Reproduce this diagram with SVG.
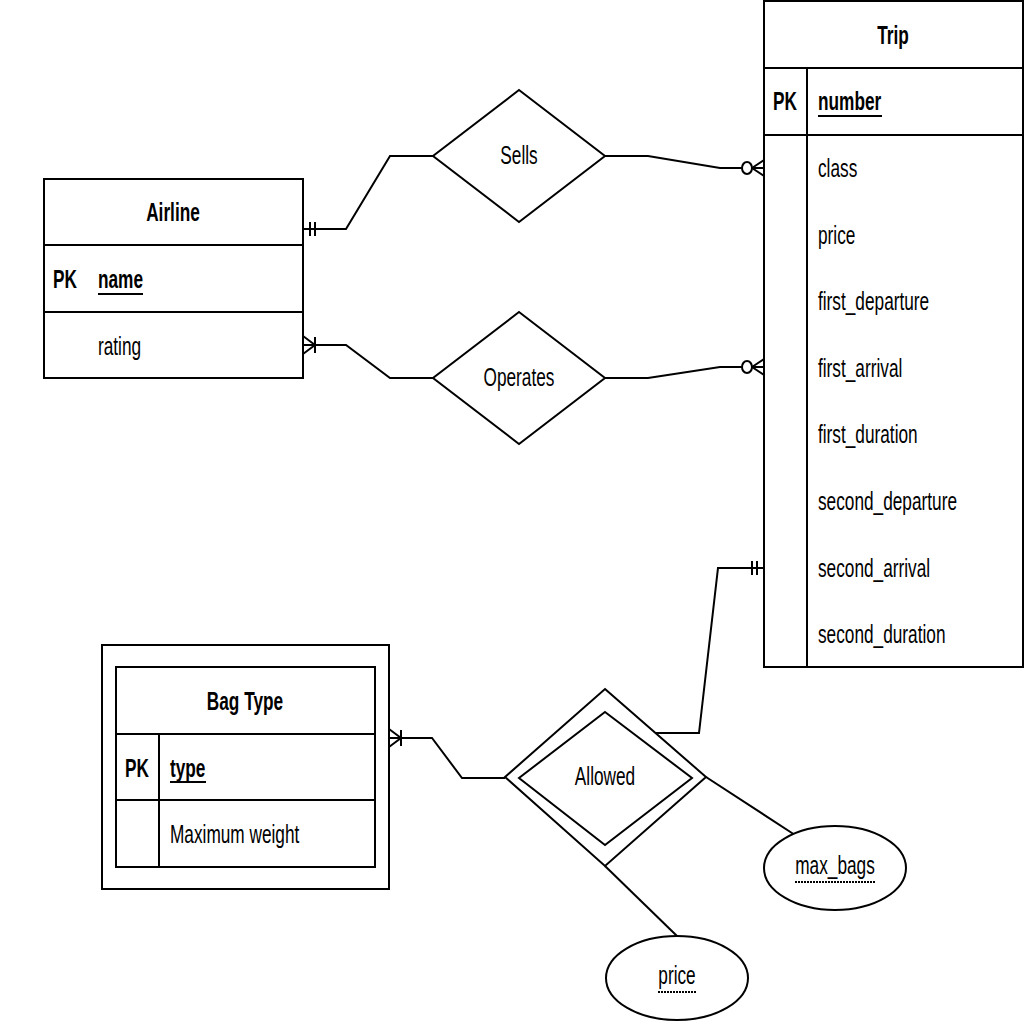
<svg xmlns="http://www.w3.org/2000/svg" width="1024" height="1024" viewBox="0 0 1024 1024">
<style>
text{font-family:"Liberation Sans",Arial,sans-serif;font-size:25px;fill:#000;dominant-baseline:central}
.b{font-weight:bold}
.c{text-anchor:middle}
.s{fill:#fff;stroke:#000;stroke-width:2}
.l{fill:none;stroke:#000;stroke-width:2}
.u{stroke:#000;stroke-width:2}
.d{stroke:#000;stroke-width:2;stroke-dasharray:2 1}
</style>
<rect width="1024" height="1024" fill="#fff"/>
<g id="connectors">
<path class="l" d="M303,229 H346 L390,156 H433"/>
<path class="l" d="M310,222 V236 M315,222 V236"/>
<path class="l" d="M605,156 H648 L720,168 H742"/>
<ellipse class="s" cx="747" cy="168" rx="5" ry="6"/>
<path class="l" d="M752,168 L764,160 M752,168 L764,176 M752,168 H764"/>
<path class="l" d="M303,345 H346 L390,378 H433"/>
<path class="l" d="M303,336 L315,345 L303,354 M315,337 V353"/>
<path class="l" d="M605,378 H648 L720,367 H742"/>
<ellipse class="s" cx="747" cy="367" rx="5" ry="6"/>
<path class="l" d="M752,367 L764,359 M752,367 L764,375 M752,367 H764"/>
<path class="l" d="M656,733 H699 L718,568 H764"/>
<path class="l" d="M752,561 V575 M757,561 V575"/>
<path class="l" d="M389,738 H432 L462,778 H505"/>
<path class="l" d="M389,729 L401,738 L389,747 M401,730 V746"/>
<path class="l" d="M706,777 L795,835"/>
<path class="l" d="M605,866 L677,936"/>
</g>
<g id="trip">
<rect class="s" x="764" y="1" width="259" height="666"/>
<path class="l" d="M764,68 H1023 M764,135 H1023 M807,68 V667"/>
<text class="b c" x="893" y="36" transform="translate(276.83,0) scale(0.69,1)">Trip</text>
<text class="b c" x="785" y="102" transform="translate(243.35,0) scale(0.69,1)">PK</text>
<g transform="translate(253.58,0) scale(0.69,1)">
<text class="b" x="818" y="102">number</text>
<text x="818" y="169">class</text>
<text x="818" y="236">price</text>
<text x="818" y="302">first_departure</text>
<text x="818" y="369">first_arrival</text>
<text x="818" y="435">first_duration</text>
<text x="818" y="502">second_departure</text>
<text x="818" y="569">second_arrival</text>
<text x="818" y="635">second_duration</text>
</g>
<path class="u" d="M818,116 H882"/>
</g>
<g id="airline">
<rect class="s" x="44" y="179" width="259" height="199"/>
<path class="l" d="M44,245 H303 M44,312 H303"/>
<text class="b c" x="173" y="213" transform="translate(53.63,0) scale(0.69,1)">Airline</text>
<text class="b" x="53" y="280" transform="translate(16.43,0) scale(0.69,1)">PK</text>
<g transform="translate(30.38,0) scale(0.69,1)">
<text class="b" x="98" y="280">name</text>
<text x="98" y="347">rating</text>
</g>
<path class="u" d="M98,294 H143"/>
</g>
<g id="sells">
<path class="s" d="M519,90 L605,156 L519,222 L433,156 Z"/>
<text class="c" x="519" y="156" transform="translate(160.89,0) scale(0.69,1)">Sells</text>
</g>
<g id="operates">
<path class="s" d="M519,312 L605,378 L519,444 L433,378 Z"/>
<text class="c" x="519" y="378" transform="translate(160.89,0) scale(0.69,1)">Operates</text>
</g>
<g id="bagtype">
<rect class="s" x="102" y="645" width="287" height="244"/>
<rect class="s" x="116" y="667" width="259" height="200"/>
<path class="l" d="M116,734 H375 M116,800 H375 M159,734 V867"/>
<text class="b c" x="245" y="702" transform="translate(75.95,0) scale(0.69,1)">Bag Type</text>
<text class="b c" x="137" y="769" transform="translate(42.47,0) scale(0.69,1)">PK</text>
<g transform="translate(52.7,0) scale(0.69,1)">
<text class="b" x="170" y="769">type</text>
<text x="170" y="835">Maximum weight</text>
</g>
<path class="u" d="M170,782 H206"/>
</g>
<g id="allowed">
<path class="s" d="M605,689 L706,777 L605,866 L505,777 Z"/>
<path class="s" d="M605,712 L692,778 L605,845 L519,778 Z"/>
<text class="c" x="605" y="777" transform="translate(187.55,0) scale(0.69,1)">Allowed</text>
</g>
<g id="max_bags">
<ellipse class="s" cx="835" cy="868" rx="71" ry="42"/>
<text class="c" x="835" y="866" transform="translate(258.85,0) scale(0.69,1)">max_bags</text>
<path class="d" d="M795,882 H875"/>
</g>
<g id="price">
<ellipse class="s" cx="677" cy="978" rx="71" ry="42"/>
<text class="c" x="677" y="976" transform="translate(209.87,0) scale(0.69,1)">price</text>
<path class="d" d="M658,992 H696"/>
</g>
</svg>
